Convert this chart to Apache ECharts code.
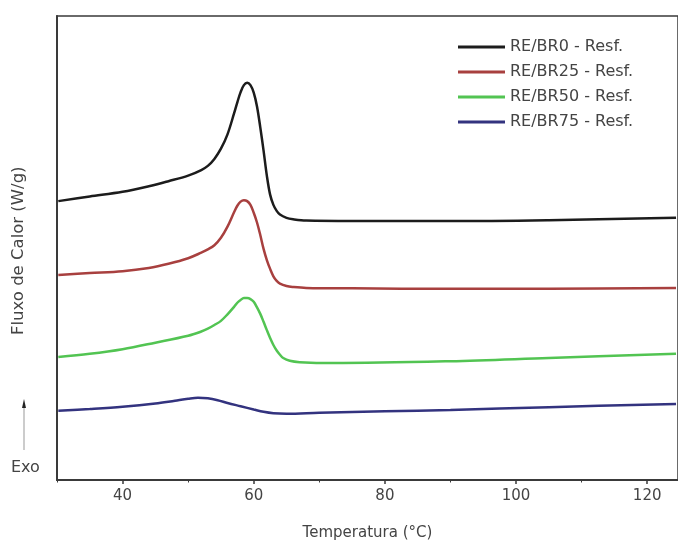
<!DOCTYPE html>
<html>
<head>
<meta charset="utf-8">
<script src="https://cdn.jsdelivr.net/npm/echarts@6/dist/echarts.min.js"></script>
<style>html,body{margin:0;padding:0;background:#fff}#c{width:678px;height:549px}</style>
</head>
<body>
<div id="c"></div>
<script>
var seriesNames = ['RE/BR0 - Resf.', 'RE/BR25 - Resf.', 'RE/BR50 - Resf.', 'RE/BR75 - Resf.'];
var majorTicks = [40, 60, 80, 100, 120];
var minorTicks = [30, 50, 70, 90, 110];

var br0T = [30.2, 35, 40, 44, 47, 50, 52, 53, 54, 55, 56, 57, 57.5, 58, 58.5, 59, 59.5, 60, 60.5, 61, 61.5, 62, 62.5, 63, 63.5, 64, 65, 66, 68, 75, 90, 105, 124.4];
var br0V = [6.01, 6.11, 6.21, 6.33, 6.44, 6.56, 6.68, 6.77, 6.92, 7.14, 7.45, 7.90, 8.14, 8.36, 8.51, 8.56, 8.51, 8.35, 8.05, 7.60, 7.10, 6.56, 6.15, 5.93, 5.80, 5.72, 5.65, 5.62, 5.59, 5.58, 5.58, 5.60, 5.65];

var br25T = [30.2, 35, 40, 44, 47, 50, 52, 53, 54, 55, 56, 57, 57.5, 58, 58.5, 59, 59.5, 60, 60.5, 61, 61.5, 62, 62.5, 63, 63.5, 64, 65, 66, 68, 75, 90, 105, 124.4];
var br25V = [4.42, 4.46, 4.50, 4.57, 4.66, 4.78, 4.90, 4.97, 5.06, 5.22, 5.46, 5.77, 5.91, 6.00, 6.03, 6.01, 5.93, 5.76, 5.55, 5.28, 4.98, 4.74, 4.55, 4.39, 4.29, 4.23, 4.18, 4.16, 4.14, 4.13, 4.12, 4.12, 4.14];

var br50T = [30.2, 35, 40, 45, 50, 52, 53, 54, 55, 56, 57, 57.5, 58, 58.5, 59, 59.5, 60, 60.5, 61, 61.5, 62, 62.5, 63, 63.5, 64, 64.5, 65.5, 67, 72, 90, 105, 124.4];
var br50V = [2.65, 2.72, 2.82, 2.96, 3.11, 3.20, 3.26, 3.34, 3.43, 3.57, 3.73, 3.82, 3.88, 3.92, 3.92, 3.90, 3.84, 3.72, 3.58, 3.41, 3.23, 3.06, 2.91, 2.79, 2.70, 2.63, 2.57, 2.54, 2.52, 2.56, 2.63, 2.72];

var br75T = [30.2, 35, 40, 45, 48, 50, 51.5, 53, 54.5, 56, 58, 60, 61.5, 63, 65, 70, 80, 90, 105, 124.4];
var br75V = [1.49, 1.53, 1.58, 1.65, 1.71, 1.75, 1.77, 1.76, 1.72, 1.66, 1.59, 1.52, 1.47, 1.44, 1.43, 1.45, 1.48, 1.51, 1.57, 1.64];

var colors = ['#1c1c1c', '#a8403f', '#52c452', '#33337f'];

function pairs(t, v) { return t.map(function (x, i) { return [x, v[i]]; }); }
var allData = [pairs(br0T, br0V), pairs(br25T, br25V), pairs(br50T, br50V), pairs(br75T, br75V)];

var FONT = 'DejaVu Sans, sans-serif';
var chart = echarts.init(document.getElementById('c'), null, { renderer: 'canvas' });
chart.setOption({
  animation: false,
  backgroundColor: '#ffffff',
  color: colors,
  grid: { left: 57, right: -4, top: 16, bottom: 69, show: true, borderColor: '#3a3a3a', borderWidth: 1.5, containLabel: false },
  legend: {
    orient: 'vertical', left: 458, top: 39, padding: 0, itemWidth: 47, itemHeight: 16, itemGap: 9,
    itemStyle: { borderWidth: 0 },
    textStyle: { fontFamily: FONT, fontSize: 16, color: '#444' },
    data: seriesNames.map(function (n) { return { name: n, icon: 'path://M0,6.5 L47,6.5 L47,9.3 L0,9.3 Z' }; })
  },
  xAxis: [{
    type: 'value', min: 30, max: 124.7, position: 'bottom',
    name: 'Temperatura (°C)', nameLocation: 'middle', nameGap: 46,
    nameTextStyle: { fontFamily: FONT, fontSize: 15, color: '#444' },
    axisLine: { show: true, onZero: false, lineStyle: { color: '#3a3a3a', width: 2 } },
    axisTick: { show: true, inside: false, length: 4, customValues: majorTicks, lineStyle: { color: '#3a3a3a', width: 1.5 } },
    axisLabel: { customValues: majorTicks, margin: 9, fontFamily: FONT, fontSize: 15, color: '#444' },
    splitLine: { show: false }
  }, {
    type: 'value', min: 30, max: 124.7, position: 'bottom',
    axisLine: { show: false },
    axisTick: { show: true, inside: false, length: 2.5, customValues: minorTicks, lineStyle: { color: '#3a3a3a', width: 1 } },
    axisLabel: { show: false },
    splitLine: { show: false }
  }],
  yAxis: {
    type: 'value', min: 0, max: 10,
    axisLine: { show: true, lineStyle: { color: '#3a3a3a', width: 2 } },
    axisTick: { show: false }, axisLabel: { show: false }, splitLine: { show: false }
  },
  graphic: [
    { type: 'text', rotation: Math.PI / 2, x: 10, y: 335,
      style: { text: 'Fluxo de Calor (W/g)', fontFamily: FONT, fontSize: 16.5, fill: '#444' } },
    { type: 'line', shape: { x1: 24, y1: 450, x2: 24, y2: 406 }, style: { stroke: '#999', lineWidth: 1 } },
    { type: 'polygon', shape: { points: [[22, 408], [26, 408], [24, 399]] }, style: { fill: '#222' } },
    { type: 'text', x: 11, y: 460, style: { text: 'Exo', fontFamily: FONT, fontSize: 16, fill: '#444' } }
  ],
  series: seriesNames.map(function (n, i) {
    return {
      name: n, type: 'line', xAxisIndex: 0, data: allData[i], showSymbol: false, symbol: 'none',
      smooth: 0.35,
      lineStyle: { width: 2.5, color: colors[i] }
    };
  })
});
</script>
</body>
</html>
